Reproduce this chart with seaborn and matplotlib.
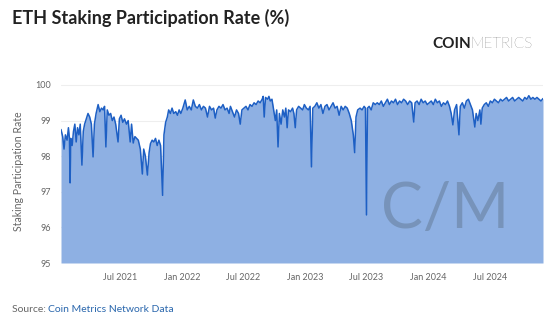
import numpy as np
import pandas as pd
import matplotlib
matplotlib.use("Agg")
import matplotlib.pyplot as plt
import matplotlib.dates as mdates
import seaborn as sns

dates_2021 = ["2021-01-07","2021-01-12","2021-01-16","2021-01-20","2021-01-25","2021-01-29","2021-02-01","2021-02-03","2021-02-05","2021-02-09","2021-02-13","2021-02-17","2021-02-21","2021-02-25","2021-03-01","2021-03-05","2021-03-10","2021-03-14","2021-03-18","2021-03-23","2021-03-28","2021-04-02","2021-04-07","2021-04-12","2021-04-16","2021-04-21","2021-04-27","2021-05-02","2021-05-07","2021-05-12","2021-05-16","2021-05-20","2021-05-24","2021-05-29","2021-06-03","2021-06-08","2021-06-13","2021-06-18","2021-06-25","2021-06-29","2021-07-04","2021-07-09","2021-07-14","2021-07-20","2021-07-25","2021-07-31","2021-08-04","2021-08-09","2021-08-14","2021-08-19","2021-08-24","2021-08-30","2021-09-05","2021-09-09","2021-09-14","2021-09-20","2021-09-25","2021-09-29","2021-10-04","2021-10-09","2021-10-14","2021-10-19","2021-10-24","2021-10-29","2021-11-04","2021-11-08","2021-11-13","2021-11-18","2021-11-22","2021-11-27","2021-12-02","2021-12-07","2021-12-13","2021-12-18","2021-12-23","2021-12-28"]
vals_2021 = [98.75,98.55,98.2,98.6,98.45,98.8,98.5,97.25,98.5,98.3,98.7,98.9,98.4,98.8,98.6,98.9,97.75,98.7,98.9,99.05,99.2,99.1,98.9,97.98,98.9,99.2,99.45,99.25,99.35,99.3,99.4,98.26,99.3,99.15,99.2,99.0,99.1,98.9,98.4,99.05,99.15,98.95,99.05,98.9,99.0,98.4,98.9,98.37,98.55,98.5,98.45,98.2,97.5,98.2,98.0,97.47,98.1,98.35,98.45,98.4,98.5,98.3,98.45,98.3,96.9,98.6,98.95,99.1,99.3,99.2,99.35,99.2,99.25,99.15,99.3,99.2]

dates_2022 = ["2022-01-03","2022-01-10","2022-01-16","2022-01-22","2022-01-28","2022-02-03","2022-02-09","2022-02-15","2022-02-21","2022-02-27","2022-03-05","2022-03-11","2022-03-17","2022-03-23","2022-03-29","2022-04-04","2022-04-09","2022-04-14","2022-04-20","2022-04-26","2022-05-02","2022-05-08","2022-05-14","2022-05-20","2022-05-24","2022-05-30","2022-06-05","2022-06-11","2022-06-17","2022-06-22","2022-06-27","2022-07-03","2022-07-09","2022-07-15","2022-07-21","2022-07-27","2022-08-02","2022-08-08","2022-08-14","2022-08-20","2022-08-26","2022-08-29","2022-09-01","2022-09-05","2022-09-11","2022-09-15","2022-09-19","2022-09-24","2022-09-29","2022-10-04","2022-10-08","2022-10-12","2022-10-16","2022-10-21","2022-10-26","2022-10-31","2022-11-04","2022-11-08","2022-11-12","2022-11-18","2022-11-24","2022-11-28","2022-12-02","2022-12-06","2022-12-12","2022-12-18","2022-12-24","2022-12-29"]
vals_2022 = [99.35,99.58,99.3,99.4,99.3,99.58,99.4,99.35,99.45,99.3,99.4,99.35,99.1,99.4,99.3,99.35,99.07,99.3,99.4,99.35,99.45,99.3,99.35,99.2,99.4,99.25,99.1,99.3,99.2,98.9,99.3,99.35,99.4,99.3,99.45,99.4,99.5,99.45,99.55,99.5,99.6,99.68,99.1,99.65,99.6,99.68,99.55,99.6,99.3,99.0,99.3,98.26,99.2,98.9,99.3,99.1,99.35,98.8,99.3,99.25,99.35,99.2,98.8,99.3,99.4,99.35,99.3,99.45]

dates_2023 = ["2023-01-04","2023-01-10","2023-01-15","2023-01-19","2023-01-23","2023-01-29","2023-02-04","2023-02-10","2023-02-16","2023-02-22","2023-02-28","2023-03-06","2023-03-12","2023-03-18","2023-03-24","2023-03-30","2023-04-05","2023-04-11","2023-04-17","2023-04-23","2023-04-29","2023-05-05","2023-05-11","2023-05-17","2023-05-23","2023-05-27","2023-05-31","2023-06-05","2023-06-12","2023-06-18","2023-06-24","2023-06-28","2023-07-01","2023-07-04","2023-07-09","2023-07-15","2023-07-21","2023-07-27","2023-08-02","2023-08-08","2023-08-14","2023-08-20","2023-08-26","2023-09-01","2023-09-07","2023-09-13","2023-09-19","2023-09-25","2023-10-01","2023-10-07","2023-10-13","2023-10-19","2023-10-25","2023-10-31","2023-11-06","2023-11-12","2023-11-18","2023-11-22","2023-11-28","2023-12-04","2023-12-10","2023-12-16","2023-12-22","2023-12-28"]
vals_2023 = [99.35,99.3,99.4,97.7,99.35,99.4,99.5,99.35,99.45,99.2,99.4,99.45,99.3,99.4,99.5,99.35,99.4,99.15,99.4,99.3,99.4,99.35,99.2,99.0,98.6,98.1,99.1,99.3,99.35,99.3,99.4,99.35,96.35,99.35,99.4,99.3,99.5,99.45,99.5,99.45,99.55,99.4,99.5,99.6,99.45,99.55,99.5,99.6,99.45,99.55,99.5,99.6,99.55,99.45,99.55,99.5,98.96,99.5,99.55,99.45,99.6,99.5,99.55,99.45]

dates_2024 = ["2024-01-03","2024-01-09","2024-01-15","2024-01-21","2024-01-27","2024-02-02","2024-02-08","2024-02-14","2024-02-20","2024-02-26","2024-03-03","2024-03-08","2024-03-13","2024-03-18","2024-03-24","2024-03-31","2024-04-04","2024-04-10","2024-04-16","2024-04-22","2024-04-28","2024-05-04","2024-05-10","2024-05-17","2024-05-21","2024-05-26","2024-06-01","2024-06-04","2024-06-08","2024-06-14","2024-06-20","2024-06-26","2024-07-02","2024-07-08","2024-07-14","2024-07-20","2024-07-26","2024-08-01","2024-08-07","2024-08-13","2024-08-19","2024-08-25","2024-08-31","2024-09-06","2024-09-12","2024-09-18","2024-09-24","2024-09-30","2024-10-06","2024-10-12","2024-10-18","2024-10-24","2024-10-30","2024-11-05","2024-11-11","2024-11-17","2024-11-23","2024-11-29","2024-12-05"]
vals_2024 = [99.5,99.55,99.45,99.6,99.5,99.55,99.4,99.5,99.45,99.55,99.4,99.2,98.88,99.3,99.45,98.6,99.4,99.5,99.35,99.55,99.6,99.45,99.3,98.82,99.2,99.0,99.3,98.9,99.35,99.45,99.5,99.4,99.55,99.5,99.6,99.55,99.5,99.6,99.55,99.6,99.65,99.55,99.6,99.65,99.55,99.6,99.65,99.6,99.55,99.65,99.6,99.7,99.6,99.65,99.6,99.65,99.6,99.55,99.62]

tick_dates = ["2021-07-01","2022-01-01","2022-07-01","2023-01-01","2023-07-01","2024-01-01","2024-07-01"]
tick_labels = ["Jul 2021","Jan 2022","Jul 2022","Jan 2023","Jul 2023","Jan 2024","Jul 2024"]
y_ticks = [95, 96, 97, 98, 99, 100]

df = pd.DataFrame({
    "date": pd.to_datetime(dates_2021 + dates_2022 + dates_2023 + dates_2024),
    "rate": vals_2021 + vals_2022 + vals_2023 + vals_2024,
})

sns.set_theme(style="white")
plt.rcParams["font.family"] = ["Lato", "DejaVu Sans"]

fig = plt.figure(figsize=(5.55, 3.21), dpi=100)
ax = fig.add_axes([61/555, 1-263/321, (543-61)/555, (263-80)/321])

fill_c = "#8eb0e3"
line_c = "#1d5fc4"
ax.fill_between(df["date"], df["rate"], 95, color=fill_c, linewidth=0, zorder=2)
sns.lineplot(data=df, x="date", y="rate", ax=ax, color=line_c, linewidth=1.1, zorder=3)

ax.set_ylim(95, 100.14)
ax.set_xlim(df["date"].min(), df["date"].max())
ax.set_yticks(y_ticks)
ax.set_yticklabels([str(v) for v in y_ticks], color="#666666", fontsize=6.5)
ax.set_xticks(pd.to_datetime(tick_dates))
ax.set_xticklabels(tick_labels, color="#666666", fontsize=6.5)
ax.tick_params(axis="both", length=0, pad=7)
ax.grid(axis="y", color="#eeeeee", linewidth=0.8, zorder=0)
ax.set_axisbelow(True)
for s in ax.spines.values():
    s.set_visible(False)
ax.set_xlabel("")
ax.set_ylabel("Staking Participation Rate", color="#666666", fontsize=7.6, labelpad=8)

# watermark
ax.text(0.797, 0.29, "C/M", transform=ax.transAxes, fontsize=45,
        color="#5b7188", alpha=0.45, ha="center", va="center", zorder=4)

fig.text(12/555, 1-18/321, "ETH Staking Participation Rate (%)", fontsize=13,
         fontweight="bold", color="#222222", va="center", ha="left")
t1 = fig.text(432/555, 1-44/321, "COIN", fontsize=11, fontweight="bold",
              color="#222222", va="center", ha="left")
fig.canvas.draw()
bb = t1.get_window_extent()
fig.text(bb.x1/555, 1-44/321, "METRICS", fontsize=11, fontweight="light",
         color="#333333", va="center", ha="left")

s1 = fig.text(12/555, 1-309/321, "Source: ", fontsize=7.5, color="#666666",
              va="center", ha="left")
fig.canvas.draw()
bb2 = s1.get_window_extent()
fig.text(bb2.x1/555, 1-309/321, "Coin Metrics Network Data", fontsize=7.5,
         color="#2a67ad", va="center", ha="left")

fig.savefig("out.png", dpi=100)
